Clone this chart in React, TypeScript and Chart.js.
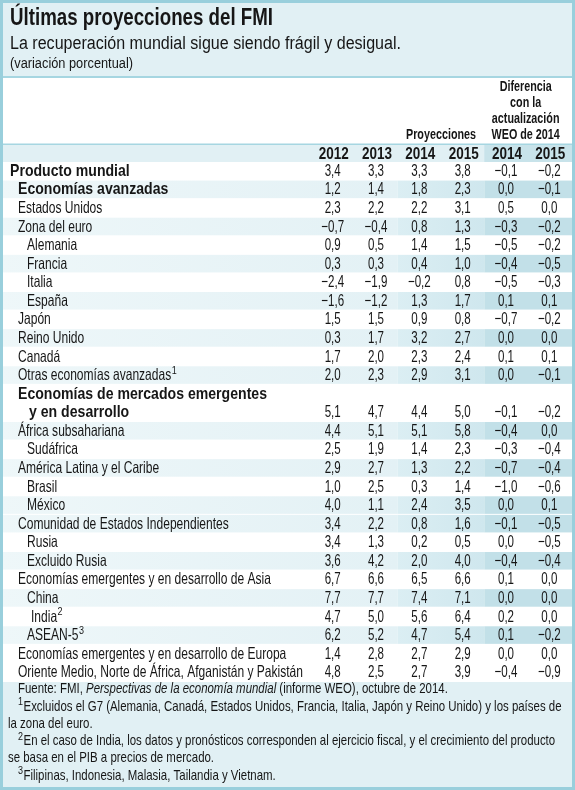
import { useEffect, useRef } from "react";
import { Chart, registerables } from "chart.js";

Chart.register(...registerables);

// ---------- data ----------
const title = "Últimas proyecciones del FMI";
const subtitle = "La recuperación mundial sigue siendo frágil y desigual.";
const unitNote = "(variación porcentual)";

const columnLabels = ["2012", "2013", "2014", "2015", "2014", "2015"];
const projHeader = "Proyecciones";
const diffHeader = ["Diferencia", "con la", "actualización", "WEO de 2014"];

const rowLabels = [
  "Producto mundial",
  "Economías avanzadas",
  "Estados Unidos",
  "Zona del euro",
  "Alemania",
  "Francia",
  "Italia",
  "España",
  "Japón",
  "Reino Unido",
  "Canadá",
  "Otras economías avanzadas",
  "Economías de mercados emergentes\ny en desarrollo",
  "África subsahariana",
  "Sudáfrica",
  "América Latina y el Caribe",
  "Brasil",
  "México",
  "Comunidad de Estados Independientes",
  "Rusia",
  "Excluido Rusia",
  "Economías emergentes y en desarrollo de Asia",
  "China",
  "India",
  "ASEAN-5",
  "Economías emergentes y en desarrollo de Europa",
  "Oriente Medio, Norte de África, Afganistán y Pakistán",
];
const rowLevels = [0, 1, 1, 1, 2, 2, 2, 2, 1, 1, 1, 1, 1, 1, 2, 1, 2, 2, 1, 2, 2, 1, 2, 2, 2, 1, 1];
const rowBold = [1, 1, 0, 0, 0, 0, 0, 0, 0, 0, 0, 0, 1, 0, 0, 0, 0, 0, 0, 0, 0, 0, 0, 0, 0, 0, 0];
const rowNotes = ["", "", "", "", "", "", "", "", "", "", "", "1", "", "", "", "", "", "", "", "", "", "", "", "2", "3", "", ""];
const rowShaded = [0, 1, 0, 1, 0, 1, 0, 1, 0, 1, 0, 1, 0, 1, 0, 1, 0, 1, 1, 0, 1, 0, 1, 0, 1, 0, 0];

const v2012 = [3.4, 1.2, 2.3, -0.7, 0.9, 0.3, -2.4, -1.6, 1.5, 0.3, 1.7, 2.0, 5.1, 4.4, 2.5, 2.9, 1.0, 4.0, 3.4, 3.4, 3.6, 6.7, 7.7, 4.7, 6.2, 1.4, 4.8];
const v2013 = [3.3, 1.4, 2.2, -0.4, 0.5, 0.3, -1.9, -1.2, 1.5, 1.7, 2.0, 2.3, 4.7, 5.1, 1.9, 2.7, 2.5, 1.1, 2.2, 1.3, 4.2, 6.6, 7.7, 5.0, 5.2, 2.8, 2.5];
const p2014 = [3.3, 1.8, 2.2, 0.8, 1.4, 0.4, -0.2, 1.3, 0.9, 3.2, 2.3, 2.9, 4.4, 5.1, 1.4, 1.3, 0.3, 2.4, 0.8, 0.2, 2.0, 6.5, 7.4, 5.6, 4.7, 2.7, 2.7];
const p2015 = [3.8, 2.3, 3.1, 1.3, 1.5, 1.0, 0.8, 1.7, 0.8, 2.7, 2.4, 3.1, 5.0, 5.8, 2.3, 2.2, 1.4, 3.5, 1.6, 0.5, 4.0, 6.6, 7.1, 6.4, 5.4, 2.9, 3.9];
const d2014 = [-0.1, 0.0, 0.5, -0.3, -0.5, -0.4, -0.5, 0.1, -0.7, 0.0, 0.1, 0.0, -0.1, -0.4, -0.3, -0.7, -1.0, 0.0, -0.1, 0.0, -0.4, 0.1, 0.0, 0.2, 0.1, 0.0, -0.4];
const d2015 = [-0.2, -0.1, 0.0, -0.2, -0.2, -0.5, -0.3, 0.1, -0.2, 0.0, 0.1, -0.1, -0.2, 0.0, -0.4, -0.4, -0.6, 0.1, -0.5, -0.5, -0.4, 0.0, 0.0, 0.0, -0.2, 0.0, -0.9];
const columnSeries = [v2012, v2013, p2014, p2015, d2014, d2015];

const sourceParts = [
  { t: "Fuente: FMI, ", i: false },
  { t: "Perspectivas de la economía mundial", i: true },
  { t: " (informe WEO), octubre de 2014.", i: false },
];
const footnotes = [
  { n: "1", lines: ["Excluidos el G7 (Alemania, Canadá, Estados Unidos, Francia, Italia, Japón y Reino Unido) y los países de", "la zona del euro."] },
  { n: "2", lines: ["En el caso de India, los datos y pronósticos corresponden al ejercicio fiscal, y el crecimiento del producto", "se basa en el PIB a precios de mercado."] },
  { n: "3", lines: ["Filipinas, Indonesia, Malasia, Tailandia y Vietnam."] },
];

// ---------- helpers ----------
const FAM = "'Liberation Sans', Arial, sans-serif";
const TXT = "#161616";
const fmt = (v: number) => (v < 0 ? "\u2212" : "") + Math.abs(v).toFixed(1).replace(".", ",");

function fitScale(ctx: CanvasRenderingContext2D, font: string, s: string, w: number) {
  ctx.save();
  ctx.font = font;
  const m = ctx.measureText(s).width;
  ctx.restore();
  return w / m;
}

function txt(
  ctx: CanvasRenderingContext2D,
  s: string,
  x: number,
  y: number,
  font: string,
  sx: number,
  align: CanvasTextAlign = "left",
  color = TXT
) {
  ctx.save();
  ctx.font = font;
  ctx.fillStyle = color;
  ctx.textBaseline = "middle";
  ctx.textAlign = align;
  ctx.translate(x, y);
  ctx.scale(sx, 1);
  ctx.fillText(s, 0, 0);
  const w = ctx.measureText(s).width * sx;
  ctx.restore();
  return w;
}

const lineCounts = rowLabels.map((l) => l.split("\n").length);
const slotStart: number[] = [];
lineCounts.reduce((acc, n, i) => {
  slotStart[i] = acc;
  return acc + n;
}, 0);
const totalSlots = lineCounts.reduce((a, b) => a + b, 0);
const valueSlot = rowLabels.map((_, i) => slotStart[i] + lineCounts[i] - 1);

const tablePlugin = {
  id: "tablePlugin",
  beforeDraw(chart: any) {
    const ctx: CanvasRenderingContext2D = chart.ctx;
    const xs = chart.scales.x;
    const ys = chart.scales.y;
    const W = chart.width;
    const H = chart.height;
    const bx = (k: number) => xs.getPixelForValue(k - 0.5);
    const slotH = Math.abs(ys.getPixelForValue(1) - ys.getPixelForValue(0));
    ctx.save();
    ctx.fillStyle = "#ffffff";
    ctx.fillRect(0, 0, W, H);
    // title band
    ctx.fillStyle = "#e1f0f4";
    ctx.fillRect(0, 0, W, 77);
    ctx.fillStyle = "#a6d6e1";
    ctx.fillRect(0, 76, W, 2);
    // header rule
    ctx.fillStyle = "#a6d6e1";
    ctx.fillRect(0, 143.5, W, 1.5);
    // year band
    const top = chart.chartArea.top;
    ctx.fillStyle = "#e1f0f4";
    ctx.fillRect(0, 145, W, top - 145);
    ctx.fillStyle = "#c8e3ea";
    ctx.fillRect(bx(4), 145, W - bx(4), top - 145);
    // shaded rows
    rowLabels.forEach((_, i) => {
      if (!rowShaded[i]) return;
      const y0 = ys.getPixelForValue(slotStart[i]) - slotH / 2;
      const h = slotH * lineCounts[i] - 1;
      const g1 = ctx.createLinearGradient(0, 0, bx(2), 0);
      g1.addColorStop(0, "#eef7f9");
      g1.addColorStop(1, "#e3f1f5");
      ctx.fillStyle = g1;
      ctx.fillRect(0, y0, bx(2), h);
      const g2 = ctx.createLinearGradient(bx(2), 0, bx(4), 0);
      g2.addColorStop(0, "#dbeef3");
      g2.addColorStop(1, "#cfe7ee");
      ctx.fillStyle = g2;
      ctx.fillRect(bx(2), y0, bx(4) - bx(2), h);
      ctx.fillStyle = "#c2e0e8";
      ctx.fillRect(bx(4), y0, W - bx(4), h);
    });
    // footnote band
    const bottom = chart.chartArea.bottom;
    ctx.fillStyle = "#e1f0f4";
    ctx.fillRect(0, bottom, W, H - bottom);
    ctx.restore();
  },
  afterDatasetsDraw(chart: any) {
    const ctx: CanvasRenderingContext2D = chart.ctx;
    const xs = chart.scales.x;
    const ys = chart.scales.y;
    const W = chart.width;
    const H = chart.height;

    const fTitle = `bold 24px ${FAM}`;
    const fSub = `18px ${FAM}`;
    const fUnit = `14px ${FAM}`;
    const fBody = `16.5px ${FAM}`;
    const fBodyB = `bold 16.5px ${FAM}`;
    const fHead = `bold 15px ${FAM}`;
    const fYear = `bold 16.5px ${FAM}`;
    const fFoot = `14.5px ${FAM}`;
    const fFootI = `italic 14.5px ${FAM}`;
    const fSup = `10px ${FAM}`;

    const sTitle = fitScale(ctx, fTitle, title, 263);
    const sSub = fitScale(ctx, fSub, subtitle, 391);
    const sUnit = fitScale(ctx, fUnit, unitNote, 123);
    const sBody = fitScale(ctx, fBody, rowLabels[26], 285);
    const sBodyB = fitScale(ctx, fBodyB, "Economías de mercados emergentes", 249);
    const sHead = fitScale(ctx, fHead, projHeader, 70);
    const sYear = fitScale(ctx, fYear, "2012", 30);
    const sNum = 0.7;
    const sFoot = fitScale(ctx, fFoot, footnotes[0].lines[0], 538);

    // title block
    txt(ctx, title, 10, 18, fTitle, sTitle);
    txt(ctx, subtitle, 10, 44, fSub, sSub);
    txt(ctx, unitNote, 10, 64, fUnit, sUnit);

    // headers
    const cx = (k: number) => xs.getPixelForValue(k);
    const projX = (cx(2) + cx(3)) / 2;
    const diffX = (cx(4) + cx(5)) / 2 - 2;
    txt(ctx, projHeader, projX, 135, fHead, sHead, "center");
    diffHeader.forEach((l, k) => txt(ctx, l, diffX, 87 + k * 16, fHead, sHead, "center"));
    columnLabels.forEach((c, k) => txt(ctx, c, cx(k) + 1, 154, fYear, sYear, "center"));

    // row labels
    const indent = [10, 18, 27];
    rowLabels.forEach((label, i) => {
      const lines = label.split("\n");
      const font = rowBold[i] ? fBodyB : fBody;
      const sx = rowBold[i] ? sBodyB : sBody;
      lines.forEach((ln, k) => {
        const y = ys.getPixelForValue(slotStart[i] + k);
        const x = indent[rowLevels[i]] + (k > 0 ? 11 : 0) + (rowNotes[i] === "2" ? 4 : 0);
        const w = txt(ctx, ln, x, y, font, sx);
        if (k === lines.length - 1 && rowNotes[i]) {
          txt(ctx, rowNotes[i], x + w + 0.5, y - 4.5, fSup, 0.9);
        }
      });
    });

    // values, at the dataset point positions
    chart.data.datasets.forEach((_: any, di: number) => {
      const meta = chart.getDatasetMeta(di);
      meta.data.forEach((pt: any, ri: number) => {
        txt(ctx, fmt(columnSeries[di][ri]), pt.x, pt.y, fBody, sNum, "center");
      });
    });

    // footnotes
    let x = 18;
    const ySrc = 689;
    sourceParts.forEach((p) => {
      x += txt(ctx, p.t, x, ySrc, p.i ? fFootI : fFoot, sFoot);
    });
    let y = 706.5;
    footnotes.forEach((fn) => {
      fn.lines.forEach((ln, k) => {
        if (k === 0) {
          const w = txt(ctx, fn.n, 18, y - 4, fSup, 0.9);
          txt(ctx, ln, 18 + w + 0.5, y, fFoot, sFoot);
        } else {
          txt(ctx, ln, 8, y, fFoot, sFoot);
        }
        y += 17.3;
      });
    });

    // frame
    ctx.save();
    ctx.strokeStyle = "#99cfdc";
    ctx.lineWidth = 3;
    ctx.strokeRect(1.5, 1.5, W - 3, H - 3);
    ctx.restore();
  },
};

export default function App() {
  const ref = useRef<HTMLCanvasElement>(null);
  useEffect(() => {
    document.body.style.margin = "0";
    const canvas = ref.current!;
    const chart = new Chart(canvas, {
      type: "scatter",
      data: {
        datasets: columnLabels.map((c, ci) => ({
          label: c,
          data: rowLabels.map((_, ri) => ({ x: ci, y: valueSlot[ri] })),
          pointRadius: 0,
          pointHoverRadius: 0,
          showLine: false,
        })),
      },
      options: {
        responsive: false,
        maintainAspectRatio: false,
        animation: false,
        events: [],
        layout: { padding: { left: 311, right: 4, top: 162, bottom: 108 } },
        plugins: { legend: { display: false }, tooltip: { enabled: false }, title: { display: false } },
        scales: {
          x: { type: "linear", display: false, min: -0.5, max: columnLabels.length - 0.5 },
          y: { type: "linear", display: false, min: -0.5, max: totalSlots - 0.5, reverse: true },
        },
      },
      plugins: [tablePlugin],
    });
    return () => chart.destroy();
  }, []);
  return (
    <div style={{ width: 575, height: 790 }}>
      <canvas ref={ref} width={575} height={790} style={{ display: "block", width: 575, height: 790 }} />
    </div>
  );
}
